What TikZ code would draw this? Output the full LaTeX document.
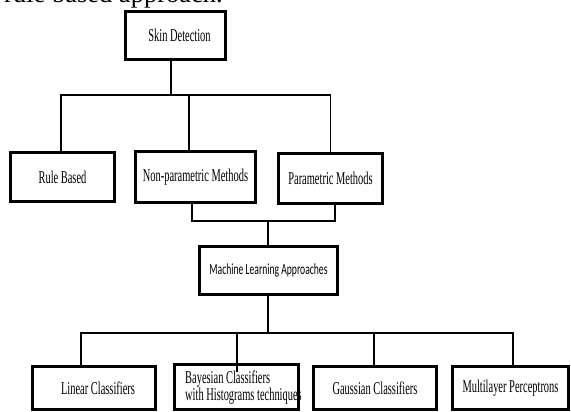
\documentclass[tikz,border=0pt]{standalone}
\usepackage{fontspec}
\setmainfont{Liberation Serif}
\newfontfamily\condserif[FakeStretch=0.58]{Liberation Serif}
\newfontfamily\condsans[FakeStretch=0.62]{Carlito}
\begin{document}
\begin{tikzpicture}[x=1pt,y=-1pt,
  box/.style={draw, line width=3pt, inner sep=0pt, font=\condserif\fontsize{18}{17}\selectfont},
  conn/.style={line width=1.2pt}]
\useasboundingbox (0,0) rectangle (571,412);
% cut-off caption line at top
\node[anchor=base west, inner sep=0pt, font=\fontsize{26.5}{28}\selectfont] (cap) at (4,3) {rule based approach.};
% boxes
\node[box, minimum width=100pt, minimum height=48pt] (skin) at (175.5,35.5) {\hspace{8pt}Skin Detection};
\node[box, minimum width=104pt, minimum height=49pt] (rule) at (62.5,177) {Rule Based};
\node[box, minimum width=120pt, minimum height=51pt] (nonp) at (195.5,177) {Non-parametric Methods};
\node[box, minimum width=104pt, minimum height=50pt] (param) at (330.5,178.5) {Parametric Methods};
\node[box, minimum width=138pt, minimum height=48pt, font=\condsans\fontsize{15.5}{17}\selectfont] (ml) at (268.5,270.5) {Machine Learning Approaches};
\node[box, minimum width=123pt, minimum height=43pt] (lin) at (94,388) {\hspace{8pt}Linear Classifiers};
\node[box, minimum width=124pt, minimum height=45pt] (bayes) at (236.5,387) {};
\node[anchor=base west, inner sep=0pt, font=\condserif\fontsize{18}{17}\selectfont] (bayes1) at (185,383) {Bayesian Classifiers};
\node[anchor=base west, inner sep=0pt, font=\condserif\fontsize{18}{17}\selectfont] (bayes2) at (185,400) {with Histograms techniques};
\node[box, minimum width=123pt, minimum height=43pt] (gauss) at (375,388) {Gaussian Classifiers};
\node[box, minimum width=116pt, minimum height=43pt] (multi) at (510.5,388) {Multilayer Perceptrons};
% junction coordinates
\coordinate (j1) at (171,95);
\coordinate (j2) at (268,221);
\coordinate (j3) at (268,333);
\coordinate (bin) at (237,372);
% connectors level 1
\draw[conn] (skin.south -| j1) -- (j1);
\draw[conn] ([xshift=-1.5pt]rule.north) -- ([xshift=-1.5pt]rule.north |- j1) -- (param.north |- j1) -- (param.north);
\draw[conn] ([xshift=-6.5pt]nonp.north) -- ([xshift=-6.5pt]nonp.north |- j1);
% connectors level 2
\draw[conn] ([xshift=-3.5pt]nonp.south) -- ([xshift=-3.5pt]nonp.south |- j2) -- ([xshift=4.5pt]param.south |- j2) -- ([xshift=4.5pt]param.south);
\draw[conn] (j2) -- (ml.north -| j2);
% connectors level 3
\draw[conn] (ml.south -| j3) -- (j3);
\draw[conn] ([xshift=-13pt,yshift=-3pt]lin.north) -- ([xshift=-13pt]lin.north |- j3) -- ([xshift=2.5pt]multi.north |- j3) -- ([xshift=2.5pt]multi.north);
\draw[conn] (bin |- j3) -- (bin);
\draw[conn] ([xshift=-1pt]gauss.north) -- ([xshift=-1pt]gauss.north |- j3);
\end{tikzpicture}
\end{document}
